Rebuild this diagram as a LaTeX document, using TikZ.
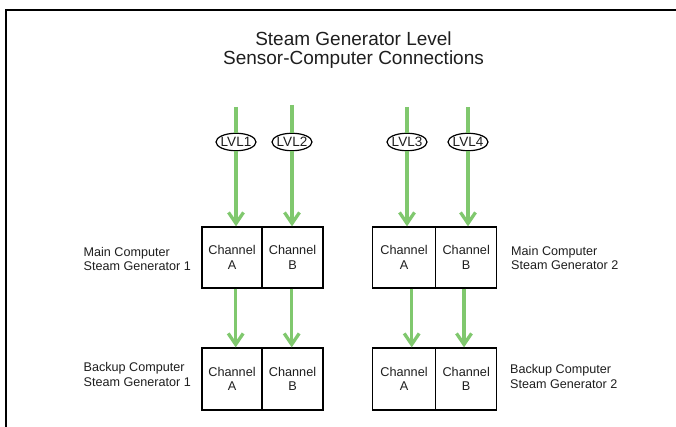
\documentclass[tikz,border=0pt]{standalone}
\usepackage{fontspec}
\setmainfont{Liberation Sans}
\usetikzlibrary{arrows.meta,shapes.geometric,calc}
\definecolor{sgreen}{RGB}{128,200,110}
\definecolor{txt}{RGB}{30,30,30}
\begin{document}
\begin{tikzpicture}[x=1pt,y=-1pt,
 cell/.style={draw=black, line width=1.3pt, minimum height=61pt, inner sep=0pt, align=center,
   font=\fontsize{12.7}{14.3}\selectfont, text=txt},
 lvl/.style={draw=black, line width=1.2pt, ellipse, fill=white, minimum width=40pt, minimum height=17.5pt,
   inner sep=0pt, font=\fontsize{13.5}{13.5}\selectfont, text=txt},
 feed/.style={draw=sgreen, line width=3.3pt},
 flow/.style={feed, -{Straight Barb[length=11pt,width=15pt]}},
 lab/.style={align=left, anchor=west, font=\fontsize{12.6}{14.5}\selectfont, text=txt, inner sep=0pt},
 ttl/.style={align=center, font=\fontsize{19}{19}\selectfont, text=txt, inner sep=0pt}
 ]
\useasboundingbox (0,0) rectangle (676,427);
\draw[line width=2.2pt] (6,432) -- (6,10) -- (682,10);

\node[ttl] (title) at (353.5,50) {Steam Generator Level\\Sensor-Computer Connections};

% main computers
\node[cell, minimum width=60pt] (m1a) at (232,257.5) {Channel\\A};
\node[cell, minimum width=61pt] (m1b) at (292.5,257.5) {Channel\\B};
\node[cell, minimum width=63pt] (m2a) at (404,257.5) {Channel\\A};
\node[cell, minimum width=61pt] (m2b) at (466.2,257.5) {Channel\\B};
% backup computers
\node[cell, minimum width=60pt, minimum height=62pt] (b1a) at (232,379) {Channel\\A};
\node[cell, minimum width=61pt, minimum height=62pt] (b1b) at (292.5,379) {Channel\\B};
\node[cell, minimum width=63pt, minimum height=62pt] (b2a) at (404,379) {Channel\\A};
\node[cell, minimum width=61pt, minimum height=62pt] (b2b) at (466.2,379) {Channel\\B};

% labels
\node[lab] (lm1) at (83.5,259) {Main Computer\\Steam Generator 1};
\node[lab] (lb1) at (83.5,374.5) {Backup Computer\\Steam Generator 1};
\node[lab] (lm2) at (511,258) {Main Computer\\Steam Generator 2};
\node[lab] (lb2) at (510,376.5) {Backup Computer\\Steam Generator 2};

% sensors
\coordinate (t1) at (236,107);
\coordinate (t2) at (292,105);
\coordinate (t3) at (407,107);
\coordinate (t4) at (468,107);
\node[lvl] (l1) at (236,142) {\makebox[20pt]{LVL1}};
\node[lvl] (l2) at (292,142) {\makebox[20pt]{LVL2}};
\node[lvl] (l3) at (407,142) {\makebox[20pt]{LVL3}};
\node[lvl] (l4) at (468,142) {\makebox[20pt]{LVL4}};

\draw[feed] (t1) -- (l1.north);
\draw[feed] (t2) -- (l2.north);
\draw[feed] (t3) -- (l3.north);
\draw[feed] (t4) -- (l4.north);
\draw[flow] (l1.south) -- (l1.south |- m1a.north);
\draw[flow] (l2.south) -- (l2.south |- m1b.north);
\draw[flow] (l3.south) -- (l3.south |- m2a.north);
\draw[flow] (l4.south) -- (l4.south |- m2b.north);

% main to backup
\draw[flow] ($(m1a.south)+(3.7,0)$) -- ($(b1a.north)+(3.7,0)$);
\draw[flow] ($(m1b.south)+(-0.8,0)$) -- ($(b1b.north)+(-0.8,0)$);
\draw[flow] ($(m2a.south)+(7.7,0)$) -- ($(b2a.north)+(7.7,0)$);
\draw[flow] ($(m2b.south)+(-2.2,0)$) -- ($(b2b.north)+(-2.2,0)$);
\end{tikzpicture}
\end{document}
